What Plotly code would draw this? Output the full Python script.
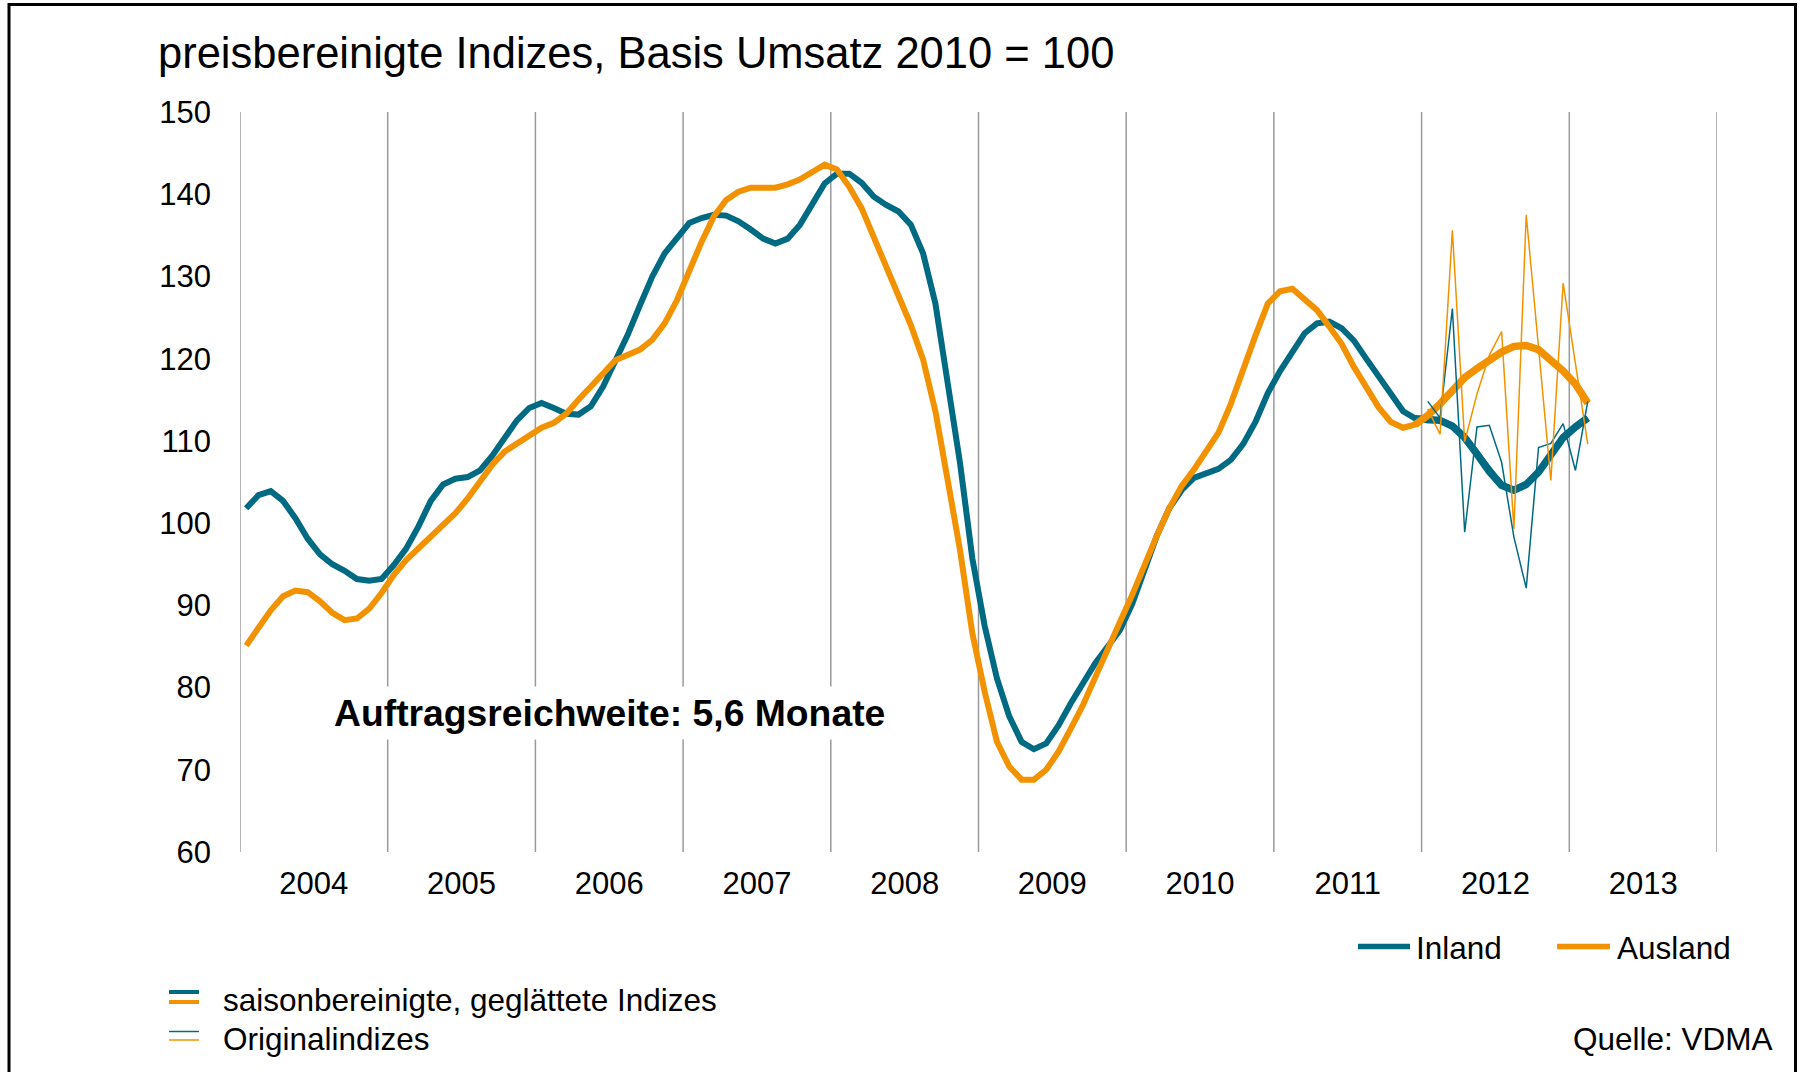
import plotly.graph_objects as go

# ---------------- data ----------------
years = ["2004", "2005", "2006", "2007", "2008", "2009", "2010", "2011", "2012", "2013"]

# monthly, Jan 2004 .. Feb 2013 (seasonally adjusted, smoothed)
inland_smooth = [
    101.8, 103.4, 103.9, 102.7, 100.6, 98.1, 96.2, 95.0, 94.2, 93.2, 93.0, 93.2,
    94.9, 96.9, 99.6, 102.7, 104.7, 105.4, 105.6, 106.4, 108.2, 110.2, 112.5, 114.0,
    114.6, 114.0, 113.3, 113.2, 114.2, 116.6, 119.6, 122.9, 126.5, 130.0, 132.8, 134.8,
    136.5, 137.1, 137.5, 137.4, 136.7, 135.7, 134.6, 134.0, 134.6, 136.3, 138.9, 141.3,
    142.5, 142.5, 141.4, 139.7, 138.7, 137.9, 136.3, 132.8, 126.7, 117.2, 107.3, 95.7,
    87.5, 81.1, 76.5, 73.4, 72.5, 73.2, 75.4, 78.1, 80.5, 83.0, 85.0, 87.0,
    90.2, 94.3, 98.5, 101.8, 104.0, 105.5, 106.0, 106.6, 107.7, 109.6, 112.3, 115.8,
    118.5, 120.8, 123.1, 124.3, 124.5, 123.7, 122.2, 120.0, 117.9, 115.6, 113.6, 112.7,
    112.5, 112.5, 111.8, 110.4, 108.4, 106.3, 104.6, 104.0, 104.7, 106.2, 108.3, 110.4,
    111.7, 112.8,
]
ausland_smooth = [
    85.1, 87.2, 89.4, 91.1, 91.8, 91.6, 90.5, 89.1, 88.2, 88.4, 89.6, 91.5,
    93.7, 95.5, 96.9, 98.3, 99.7, 101.2, 103.0, 105.1, 107.1, 108.7, 109.7, 110.7,
    111.6, 112.2, 113.3, 115.0, 116.5, 118.2, 119.8, 120.5, 121.1, 122.3, 124.3, 127.1,
    130.8, 134.2, 137.3, 139.3, 140.3, 140.8, 140.8, 140.8, 141.2, 141.8, 142.7, 143.6,
    143.0, 140.9, 138.3, 134.8, 131.2, 127.5, 124.1, 119.9, 113.6, 105.2, 96.7, 86.6,
    79.5, 73.4, 70.4, 68.8, 68.8, 70.0, 72.2, 75.0, 77.9, 81.3, 84.8, 88.0,
    91.3, 95.1, 98.5, 101.8, 104.5, 106.5, 108.6, 111.0, 114.5, 118.8, 122.8, 126.7,
    128.2, 128.5, 127.2, 125.9, 123.9, 121.8, 119.0, 116.4, 114.1, 112.3, 111.6, 112.0,
    113.1, 114.5, 116.2, 117.7, 118.8, 119.8, 120.8, 121.5, 121.6, 121.1, 119.9, 118.5,
    116.9, 114.6,
]
# original indices, Jan 2012 .. Feb 2013
orig_start_month = 96
inland_orig = [114.8, 112.8, 126.1, 98.9, 111.7, 111.9, 107.4, 98.3, 92.1, 109.2, 109.7, 112.1, 106.4, 114.8]
ausland_orig = [113.9, 110.8, 135.6, 109.9, 115.7, 120.4, 123.3, 99.3, 137.5, 121.2, 105.2, 129.2, 119.3, 109.6]

yticks = [60, 70, 80, 90, 100, 110, 120, 130, 140, 150]

# ---------------- styling ----------------
TEAL = "#006A83"
ORANGE = "#F39200"
GRID = "#9B9B9B"
FONT = "Liberation Sans, Arial, sans-serif"

W, H = 1805, 1072
L, T = 240, 112
PW, PH = 1477, 740
R, B = W - L - PW, H - T - PH


def px(xp):
    return (xp - L) / PW


def py(yp):
    return (T + PH - yp) / PH


months = list(range(len(inland_smooth)))
orig_months = [orig_start_month + k for k in range(len(inland_orig))]
bold_from = 95  # the recent part of the smoothed lines is drawn heavier

fig = go.Figure()
fig.add_trace(go.Scatter(x=months, y=inland_smooth, mode="lines", name="Inland",
                         line=dict(color=TEAL, width=6)))
fig.add_trace(go.Scatter(x=months[bold_from:], y=inland_smooth[bold_from:], mode="lines",
                         name="Inland", line=dict(color=TEAL, width=7.5)))
fig.add_trace(go.Scatter(x=months, y=ausland_smooth, mode="lines", name="Ausland",
                         line=dict(color=ORANGE, width=6)))
fig.add_trace(go.Scatter(x=months[bold_from:], y=ausland_smooth[bold_from:], mode="lines",
                         name="Ausland", line=dict(color=ORANGE, width=7.5)))
fig.add_trace(go.Scatter(x=orig_months, y=inland_orig, mode="lines", name="Inland original",
                         line=dict(color=TEAL, width=1.5)))
fig.add_trace(go.Scatter(x=orig_months, y=ausland_orig, mode="lines", name="Ausland original",
                         line=dict(color=ORANGE, width=1.5)))

n_months = 12 * len(years)
shapes = []
for k in range(len(years) + 1):
    xb = 12 * k - 0.5
    shapes.append(dict(type="line", xref="x", yref="y", x0=xb, x1=xb, y0=yticks[0], y1=yticks[-1],
                       line=dict(color=GRID, width=1.5), layer="below"))

# legend samples
shapes += [
    dict(type="line", xref="paper", yref="paper", x0=px(1358), x1=px(1410), y0=py(946.5), y1=py(946.5),
         line=dict(color=TEAL, width=5.5)),
    dict(type="line", xref="paper", yref="paper", x0=px(1557), x1=px(1610), y0=py(946.5), y1=py(946.5),
         line=dict(color=ORANGE, width=5.5)),
    dict(type="line", xref="paper", yref="paper", x0=px(169), x1=px(199), y0=py(992), y1=py(992),
         line=dict(color=TEAL, width=4)),
    dict(type="line", xref="paper", yref="paper", x0=px(169), x1=px(199), y0=py(1002), y1=py(1002),
         line=dict(color=ORANGE, width=4)),
    dict(type="line", xref="paper", yref="paper", x0=px(169), x1=px(199), y0=py(1031.5), y1=py(1031.5),
         line=dict(color=TEAL, width=1.5)),
    dict(type="line", xref="paper", yref="paper", x0=px(169), x1=px(199), y0=py(1040), y1=py(1040),
         line=dict(color=ORANGE, width=1.5)),
    # outer frame
    dict(type="rect", xref="paper", yref="paper", x0=px(9), x1=px(1795.5), y0=py(4.5), y1=py(1090),
         line=dict(color="black", width=3), fillcolor="rgba(0,0,0,0)"),
]

annotations = [
    dict(text="preisbereinigte Indizes, Basis Umsatz 2010 = 100", xref="paper", yref="paper",
         x=px(156), y=py(53), xanchor="left", yanchor="middle", showarrow=False,
         font=dict(size=43.5, color="black", family=FONT)),
    dict(text="<b>Auftragsreichweite: 5,6 Monate</b>", xref="x", yref="y",
         x=29.5, y=76.9, xanchor="center", yanchor="middle", showarrow=False,
         bgcolor="white", borderpad=5, font=dict(size=37.3, color="black", family=FONT)),
    dict(text="Inland", xref="paper", yref="paper", x=px(1414), y=py(948), xanchor="left",
         yanchor="middle", showarrow=False, font=dict(size=31.5, color="black", family=FONT)),
    dict(text="Ausland", xref="paper", yref="paper", x=px(1615), y=py(948), xanchor="left",
         yanchor="middle", showarrow=False, font=dict(size=31.5, color="black", family=FONT)),
    dict(text="saisonbereinigte, geglättete Indizes", xref="paper", yref="paper", x=px(221), y=py(1000),
         xanchor="left", yanchor="middle", showarrow=False, font=dict(size=31.5, color="black", family=FONT)),
    dict(text="Originalindizes", xref="paper", yref="paper", x=px(221), y=py(1039),
         xanchor="left", yanchor="middle", showarrow=False, font=dict(size=31.5, color="black", family=FONT)),
    dict(text="Quelle: VDMA", xref="paper", yref="paper", x=px(1775), y=py(1039),
         xanchor="right", yanchor="middle", showarrow=False, font=dict(size=31.5, color="black", family=FONT)),
]

fig.update_layout(
    width=W, height=H,
    margin=dict(l=L, r=R, t=T, b=B, autoexpand=False),
    paper_bgcolor="white", plot_bgcolor="white",
    showlegend=False,
    font=dict(family=FONT, color="black", size=31),
    shapes=shapes,
    annotations=annotations,
    xaxis=dict(range=[-0.5, n_months - 0.5], tickmode="array",
               tickvals=[12 * k + 5.5 for k in range(len(years))], ticktext=years,
               showgrid=False, zeroline=False, showline=False, ticks="",
               ticklabelstandoff=10, tickfont=dict(size=31, family=FONT, color="black")),
    yaxis=dict(range=[yticks[0], yticks[-1]], tickmode="array", tickvals=yticks,
               showgrid=False, zeroline=False, showline=False, ticks="",
               ticklabelstandoff=28, tickfont=dict(size=31, family=FONT, color="black")),
)

# remove the default page margin so the figure sits at the window's top-left corner
fig.write_html(
    "out.html",
    config={"displayModeBar": False},
    post_script="document.body.style.margin='0';document.body.style.overflow='hidden';",
)
